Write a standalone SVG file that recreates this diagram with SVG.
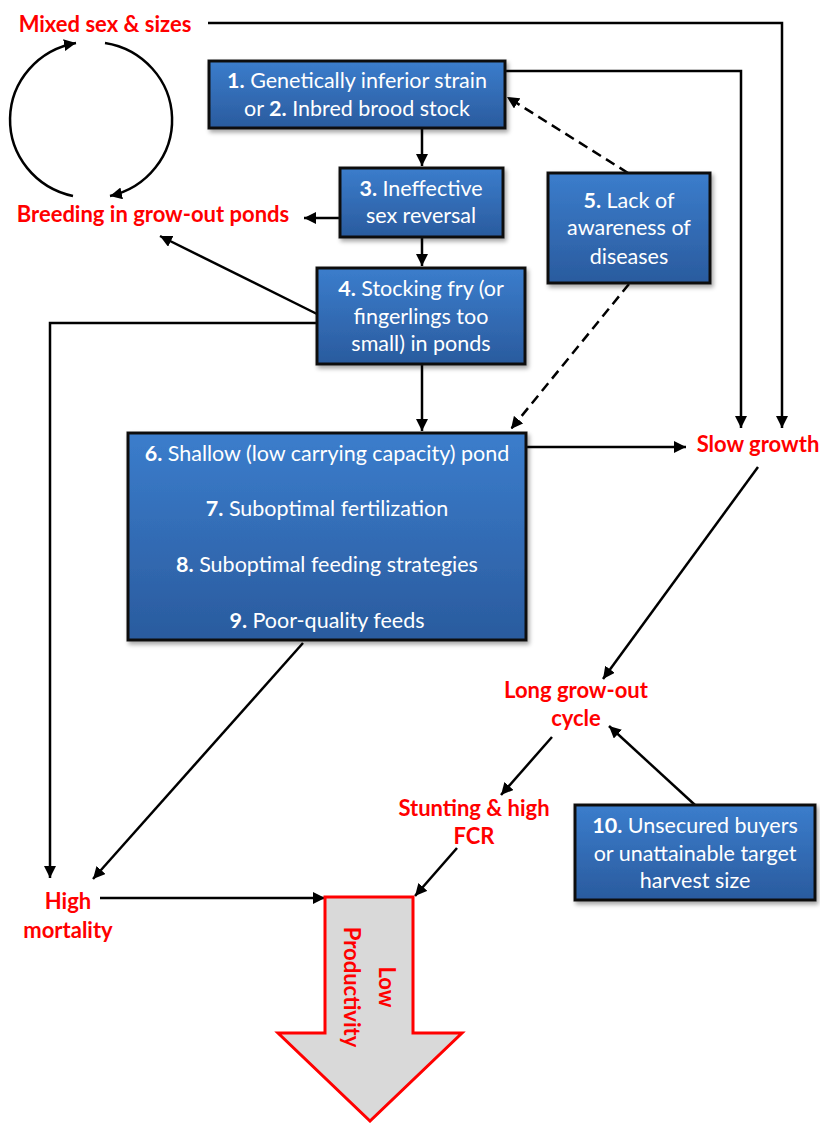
<svg xmlns="http://www.w3.org/2000/svg" width="820" height="1123" viewBox="0 0 820 1123">
<style>
.box{stroke:#111;stroke-width:3;fill:url(#bg);filter:url(#sh)}
.bt{font-family:Lato,"Liberation Sans",sans-serif;font-size:21.5px;fill:#fff;text-anchor:middle}
.bt tspan.n{font-weight:bold}
.rl{font-family:Lato,"Liberation Sans",sans-serif;font-size:22px;font-weight:bold;fill:#ff0000;text-anchor:middle}
.c{stroke:#000;stroke-width:2.5;fill:none;marker-end:url(#ah)}
.d{stroke-dasharray:10 6}
</style>
<defs>
<linearGradient id="bg" x1="0" y1="0" x2="0" y2="1">
<stop offset="0" stop-color="#3b7dcc"/>
<stop offset="1" stop-color="#2a5b9e"/>
</linearGradient>
<filter id="sh" x="-10%" y="-10%" width="125%" height="130%">
<feDropShadow dx="2" dy="3" stdDeviation="2" flood-color="#000" flood-opacity="0.35"/>
</filter>
<marker id="ah" markerUnits="userSpaceOnUse" markerWidth="14" markerHeight="12" refX="12" refY="6" orient="auto">
<path d="M0,0 L12,6 L0,12 z" fill="#000"/>
</marker>
</defs>

<g id="connectors">
<path class="c" d="M73,196 A80,78 0 0 1 76,43"/>
<path class="c" d="M105,43 A80,78 0 0 1 110,196"/>
<path class="c" d="M208,23 H782 V428"/>
<path class="c" d="M505,71 H741 V428"/>
<path class="c" d="M422,128 V166"/>
<path class="c" d="M422,237 V266"/>
<path class="c" d="M422,364 V431"/>
<path class="c" d="M340,218 H304"/>
<path class="c" d="M317,314 L160,236"/>
<path class="c" d="M317,323 H50 V878"/>
<path class="c d" d="M628,173 L507,97"/>
<path class="c d" d="M629,284 L511,429"/>
<path class="c" d="M526,447 H686"/>
<path class="c" d="M758,467 L603,679"/>
<path class="c" d="M695,805 L609,726"/>
<path class="c" d="M552,737 L501,795"/>
<path class="c" d="M303,643 L93,879"/>
<path class="c" d="M100,898 H325"/>
<path class="c" d="M457,848 L415,896"/>
</g>

<g id="n1"><rect class="box" x="209" y="61" width="296" height="67"/>
<text class="bt" x="357" y="88"><tspan class="n">1.</tspan> Genetically inferior strain</text>
<text class="bt" x="357" y="116">or <tspan class="n">2.</tspan> Inbred brood stock</text></g>

<g id="n3"><rect class="box" x="340" y="168" width="163" height="69"/>
<text class="bt" x="421" y="196"><tspan class="n">3.</tspan> Ineffective</text>
<text class="bt" x="421" y="223">sex reversal</text></g>

<g id="n5"><rect class="box" x="548" y="173" width="162" height="110"/>
<text class="bt" x="629" y="208"><tspan class="n">5.</tspan> Lack of</text>
<text class="bt" x="629" y="235">awareness of</text>
<text class="bt" x="629" y="264">diseases</text></g>

<g id="n4"><rect class="box" x="317" y="268" width="208" height="96"/>
<text class="bt" x="421" y="296"><tspan class="n">4.</tspan> Stocking fry (or</text>
<text class="bt" x="421" y="324">fingerlings too</text>
<text class="bt" x="421" y="351">small) in ponds</text></g>

<g id="n6"><rect class="box" x="128" y="433" width="398" height="207"/>
<text class="bt" x="327" y="461"><tspan class="n">6.</tspan> Shallow (low carrying capacity) pond</text>
<text class="bt" x="327" y="516"><tspan class="n">7.</tspan> Suboptimal fertilization</text>
<text class="bt" x="327" y="572"><tspan class="n">8.</tspan> Suboptimal feeding strategies</text>
<text class="bt" x="327" y="628"><tspan class="n">9.</tspan> Poor-quality feeds</text></g>

<g id="n10"><rect class="box" x="575" y="805" width="240" height="95"/>
<text class="bt" x="695" y="833"><tspan class="n">10.</tspan> Unsecured buyers</text>
<text class="bt" x="695" y="861">or unattainable target</text>
<text class="bt" x="695" y="888">harvest size</text></g>

<g id="mixed"><text class="rl" x="105" y="32">Mixed sex &amp; sizes</text></g>
<g id="breeding"><text class="rl" x="153" y="222">Breeding in grow-out ponds</text></g>
<g id="slow"><text class="rl" x="758" y="452">Slow growth</text></g>
<g id="long"><text class="rl" x="576" y="698">Long grow-out</text><text class="rl" x="576" y="726">cycle</text></g>
<g id="stunting"><text class="rl" x="474" y="816">Stunting &amp; high</text><text class="rl" x="474" y="844">FCR</text></g>
<g id="mortality"><text class="rl" x="68" y="909">High</text><text class="rl" x="68" y="938">mortality</text></g>

<g id="lowprod">
<path d="M325,897 H413 V1033 H462 L370,1121 L278,1033 H325 Z" fill="#d9d9d9" stroke="#ff0000" stroke-width="3"/>
<g transform="translate(369,987) rotate(90)">
<text class="rl" x="0" y="-10">Low</text>
<text class="rl" x="0" y="25">Productivity</text>
</g>
</g>
</svg>
